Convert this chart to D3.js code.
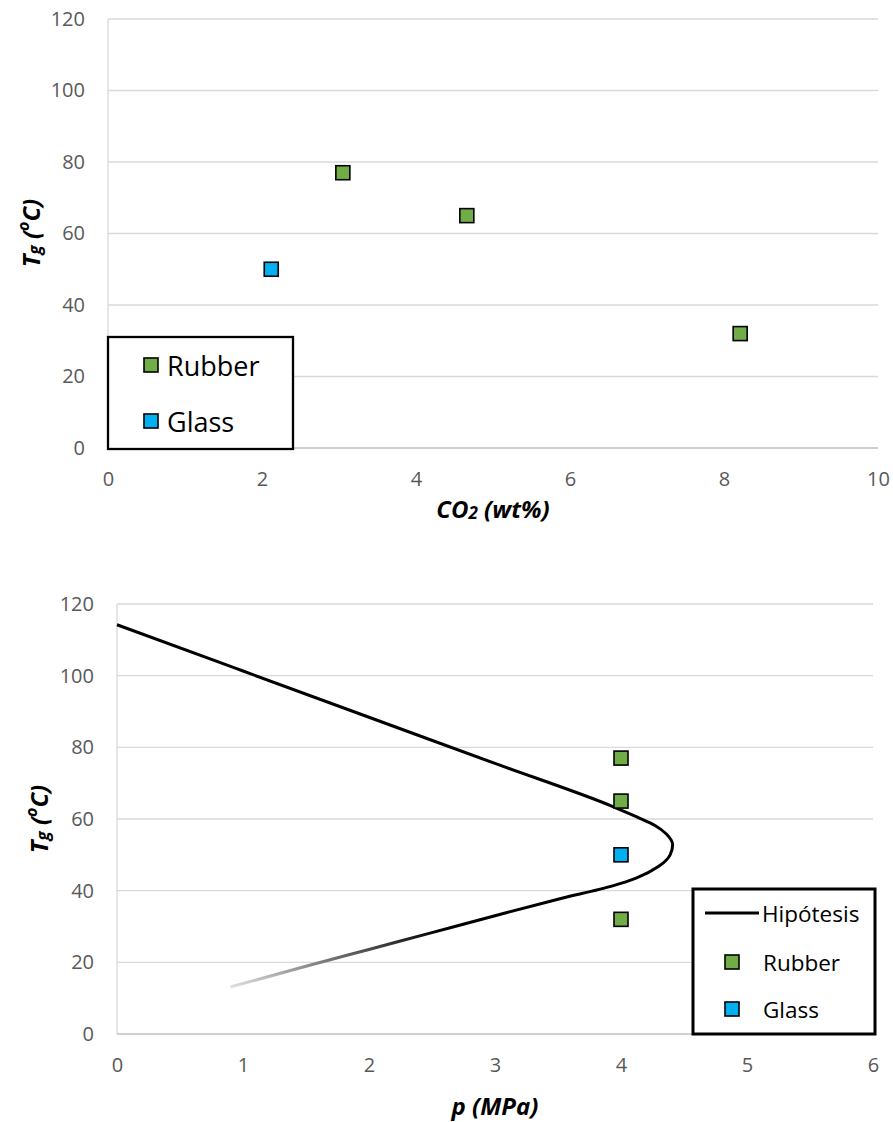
<!DOCTYPE html>
<html>
<head>
<meta charset="utf-8">
<script src="https://cdn.jsdelivr.net/npm/d3@7"></script>
<style>
  html, body { margin: 0; padding: 0; background: #fff; }
  svg { display: block; }
  text { font-family: "Open Sans", "Noto Sans", sans-serif; }
</style>
</head>
<body>
<svg id="chart" width="893" height="1122"></svg>
<script>
// ---------- data ----------
const yTicks = [0, 20, 40, 60, 80, 100, 120];
const xTicksCO2 = [0, 2, 4, 6, 8, 10];
const xTicksP = [0, 1, 2, 3, 4, 5, 6];

// Chart 1: Tg vs CO2
const co2Values = [2.12, 3.05, 4.66, 8.21];
const co2Tg = [50, 77, 65, 32];
const co2Phase = ["Glass", "Rubber", "Rubber", "Rubber"];

// Chart 2: Tg vs p
const pValues = [4, 4, 4, 4];
const pTg = [77, 65, 50, 32];
const pPhase = ["Rubber", "Rubber", "Glass", "Rubber"];

// Hipótesis curve, read along the path (T decreases along it)
const hypP = [0, 1, 2, 3, 3.94, 4.13, 4.27, 4.36, 4.41, 4.39, 4.30, 4.12, 3.94, 3.5, 3.0, 2.5, 2.0, 1.5, 0.9];
const hypT = [114.2, 101.3, 88.4, 75.5, 63.4, 60.5, 58.2, 55.8, 52.8, 50.0, 46.8, 43.5, 41.4, 37.6, 33.0, 28.3, 23.6, 18.9, 13.1];

const phaseColor = { Rubber: "#70AD47", Glass: "#00B0F0" };

// ---------- drawing ----------
const svg = d3.select("#chart");
const gridColor = "#d9d9d9";
const axisColor = "#bfbfbf";
const tickColor = "#595959";
const tickFont = "20px";
const titleFont = "24px";

function drawFrame(cfg) {
  const { x, y, xTicks } = cfg;
  const g = svg.append("g");
  g.selectAll(".grid").data(yTicks.filter(d => d !== 0)).join("line")
    .attr("x1", x.range()[0]).attr("x2", x.range()[1])
    .attr("y1", d => y(d)).attr("y2", d => y(d))
    .attr("stroke", gridColor).attr("stroke-width", 1.3);
  g.append("line").attr("x1", x.range()[0]).attr("x2", x.range()[0])
    .attr("y1", y.range()[0]).attr("y2", y.range()[1])
    .attr("stroke", gridColor).attr("stroke-width", 1.3);
  g.append("line").attr("x1", x.range()[0]).attr("x2", x.range()[1])
    .attr("y1", y(0)).attr("y2", y(0))
    .attr("stroke", axisColor).attr("stroke-width", 1.3);

  const ya = d3.axisLeft(y).tickValues(yTicks).tickSize(0).tickPadding(23);
  const yg = g.append("g").attr("transform", `translate(${x.range()[0]},0)`).call(ya);
  yg.select(".domain").remove();
  yg.selectAll("text").attr("fill", tickColor).style("font-size", tickFont)
    .style("font-family", "'Open Sans', sans-serif");

  const xa = d3.axisBottom(x).tickValues(xTicks).tickSize(0).tickPadding(24).tickFormat(d3.format("d"));
  const xg = g.append("g").attr("transform", `translate(0,${y(0)})`).call(xa);
  xg.select(".domain").remove();
  xg.selectAll("text").attr("fill", tickColor).style("font-size", tickFont)
    .style("font-family", "'Open Sans', sans-serif");
  return g;
}

function yTitle(cx, cy) {
  const t = svg.append("text")
    .attr("transform", `translate(${cx},${cy}) rotate(-90)`)
    .attr("text-anchor", "middle")
    .attr("dominant-baseline", "central")
    .style("font-size", titleFont).style("font-weight", "bold").style("font-style", "italic")
    .attr("fill", "#000");
  t.append("tspan").text("T");
  t.append("tspan").text("g").attr("baseline-shift", "-25%").style("font-size", "17px");
  t.append("tspan").text(" (");
  t.append("tspan").text("o").attr("baseline-shift", "45%").style("font-size", "16px");
  t.append("tspan").text("C)");
}

function markers(g, xs, ys, phases, x, y) {
  const s = 14;
  g.selectAll(null).data(xs.map((v, i) => ({ x: v, y: ys[i], ph: phases[i] }))).join("rect")
    .attr("x", d => x(d.x) - s / 2).attr("y", d => y(d.y) - s / 2)
    .attr("width", s).attr("height", s)
    .attr("fill", d => phaseColor[d.ph])
    .attr("stroke", "#000").attr("stroke-width", 1.6);
}

// ---------- Chart 1 ----------
const x1 = d3.scaleLinear().domain([0, 10]).range([108, 878]);
const y1 = d3.scaleLinear().domain([0, 120]).range([448, 19]);
drawFrame({ x: x1, y: y1, xTicks: xTicksCO2 });
markers(svg.append("g"), co2Values, co2Tg, co2Phase, x1, y1);

{
  const lg = svg.append("g");
  lg.append("rect").attr("x", 108).attr("y", 337).attr("width", 185).attr("height", 112)
    .attr("fill", "#fff").attr("stroke", "#000").attr("stroke-width", 2.3);
  const items = ["Rubber", "Glass"];
  const ly = d3.scalePoint().domain(items).range([365, 421]);
  items.forEach(k => {
    lg.append("rect").attr("x", 151 - 7).attr("y", ly(k) - 7).attr("width", 14).attr("height", 14)
      .attr("fill", phaseColor[k]).attr("stroke", "#000").attr("stroke-width", 1.6);
    lg.append("text").attr("x", 167).attr("y", ly(k)).attr("dominant-baseline", "central")
      .style("font-size", "27px").attr("fill", "#000").text(k);
  });
}

yTitle(30, 233);
{
  const t = svg.append("text").attr("x", 493).attr("y", 508).attr("text-anchor", "middle")
    .attr("dominant-baseline", "central")
    .style("font-size", titleFont).style("font-weight", "bold").style("font-style", "italic");
  t.append("tspan").text("CO");
  t.append("tspan").text("2").attr("baseline-shift", "-25%").style("font-size", "17px");
  t.append("tspan").text(" (wt%)");
}

// ---------- Chart 2 ----------
const x2 = d3.scaleLinear().domain([0, 6]).range([117, 873]);
const y2 = d3.scaleLinear().domain([0, 120]).range([1034, 604]);
drawFrame({ x: x2, y: y2, xTicks: xTicksP });

const defs = svg.append("defs");
const grad = defs.append("linearGradient").attr("id", "fade")
  .attr("gradientUnits", "userSpaceOnUse")
  .attr("x1", 0).attr("x2", 0).attr("y1", y2(29)).attr("y2", y2(13));
grad.append("stop").attr("offset", "0%").attr("stop-color", "#000");
grad.append("stop").attr("offset", "100%").attr("stop-color", "#e2e2e2");

const line2 = d3.line().x(d => x2(d[0])).y(d => y2(d[1])).curve(d3.curveMonotoneY);
const hyp = hypP.map((p, i) => [p, hypT[i]]);
svg.append("path").attr("d", line2(hyp)).attr("fill", "none").attr("stroke", "url(#fade)")
  .attr("stroke-width", 3).attr("stroke-linejoin", "round");

{
  const lg = svg.append("g");
  lg.append("rect").attr("x", 693).attr("y", 889).attr("width", 182).attr("height", 145)
    .attr("fill", "#fff").attr("stroke", "#000").attr("stroke-width", 3);
  lg.append("line").attr("x1", 705).attr("x2", 759).attr("y1", 913).attr("y2", 913)
    .attr("stroke", "#000").attr("stroke-width", 3);
  lg.append("text").attr("x", 762).attr("y", 913).attr("dominant-baseline", "central")
    .style("font-size", "22.5px").text("Hipótesis");
  const items = ["Rubber", "Glass"];
  const ly = d3.scalePoint().domain(items).range([962, 1009]);
  items.forEach(k => {
    lg.append("rect").attr("x", 732 - 7).attr("y", ly(k) - 7).attr("width", 14).attr("height", 14)
      .attr("fill", phaseColor[k]).attr("stroke", "#000").attr("stroke-width", 1.6);
    lg.append("text").attr("x", 763).attr("y", ly(k)).attr("dominant-baseline", "central")
      .style("font-size", "22.5px").text(k);
  });
}

markers(svg.append("g"), pValues, pTg, pPhase, x2, y2);

yTitle(38, 819);
svg.append("text").attr("x", 495).attr("y", 1105).attr("text-anchor", "middle")
  .attr("dominant-baseline", "central")
  .style("font-size", titleFont).style("font-weight", "bold").style("font-style", "italic")
  .text("p (MPa)");
</script>
</body>
</html>
